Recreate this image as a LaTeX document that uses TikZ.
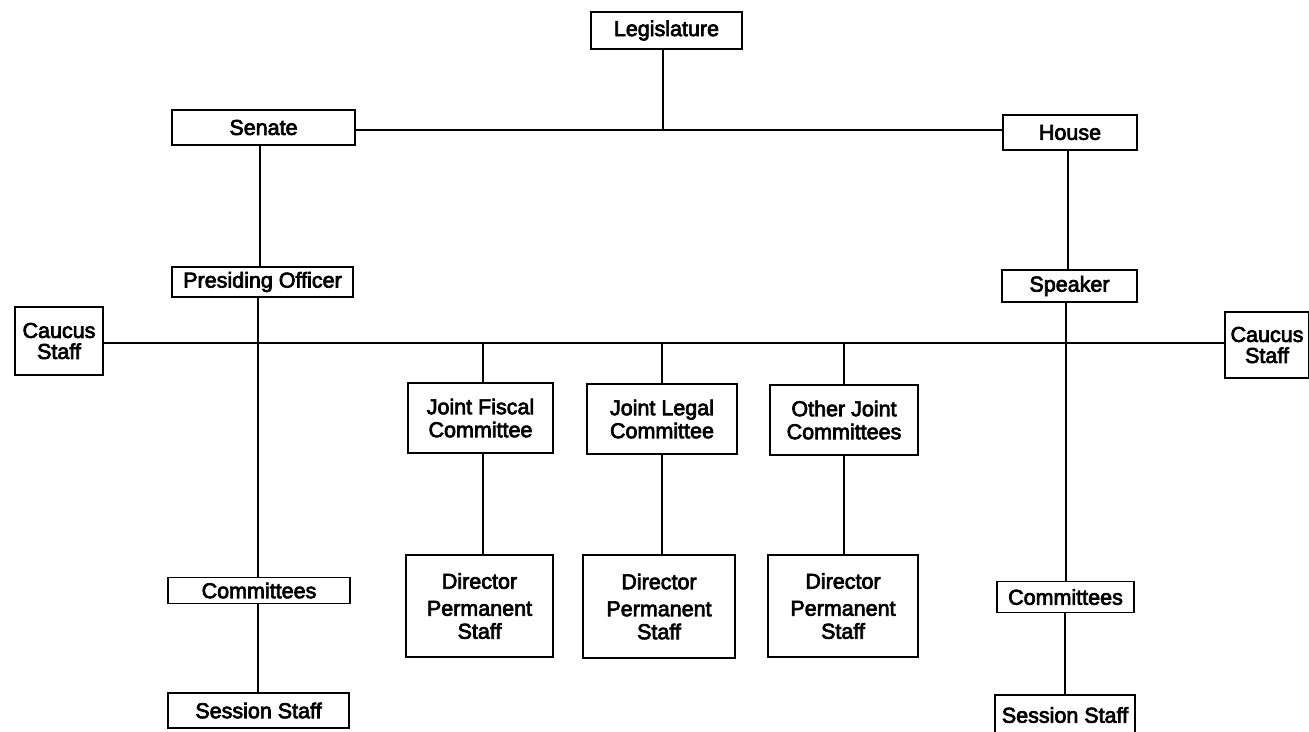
\documentclass[tikz,border=0pt]{standalone}
\usepackage{fontspec}
\setmainfont{Liberation Sans}
\newfontfamily\chartfont{Liberation Sans}
% fill and stroke the glyphs for a heavier type face
\newcommand\heavytext{\special{pdf:literal direct 2 Tr 0.7 w}}
\begin{document}
\begin{tikzpicture}[x=1pt,y=-1pt,
  orgbox/.style={draw, line width=1.6pt, inner sep=0pt, align=center,
    font=\chartfont\fontsize{21.5}{23}\selectfont\heavytext},
  link/.style={line width=1.6pt}]
\useasboundingbox (0,0) rectangle (1309,731);

% top level
\node[orgbox, minimum width=151, minimum height=37] (leg) at (666.5,30.5) {Legislature};
\node[orgbox, minimum width=183, minimum height=35] (senate) at (263.5,127.5) {Senate};
\node[orgbox, minimum width=134, minimum height=35] (house) at (1070,132.5) {House};

% chamber officers
\node[orgbox, minimum width=181, minimum height=30] (pres) at (262.5,282) {Presiding Officer};
\node[orgbox, minimum width=135, minimum height=32] (speaker) at (1069.5,286) {Speaker};

% caucus staff on both ends
\node[orgbox, minimum width=88, minimum height=68] (caucusL) at (59,341) {Caucus\\[-2pt]Staff};
\node[orgbox, minimum width=84, minimum height=66] (caucusR) at (1267,345) {Caucus\\[-2pt]Staff};

% joint committees
\node[orgbox, minimum width=145, minimum height=70] (jfc) at (480.5,418) {Joint Fiscal\\Committee};
\node[orgbox, minimum width=150, minimum height=70] (jlc) at (662,419) {Joint Legal\\Committee};
\node[orgbox, minimum width=148, minimum height=70] (ojc) at (844,420) {Other Joint\\Committees};

% directors and permanent staff
\node[orgbox, minimum width=147, minimum height=102] (dfc) at (479.5,606) {Director\\[4pt]Permanent\\Staff};
\node[orgbox, minimum width=152, minimum height=103] (dlc) at (659,606.5) {Director\\[4pt]Permanent\\Staff};
\node[orgbox, minimum width=150, minimum height=102] (doj) at (843,606) {Director\\[4pt]Permanent\\Staff};

% standing committees and session staff
\node[orgbox, minimum width=182, minimum height=26] (comS) at (259,590.5) {Committees};
\node[orgbox, minimum width=181, minimum height=35] (sessS) at (258.5,710.5) {Session Staff};
\node[orgbox, minimum width=137, minimum height=31] (comH) at (1065.5,597) {Committees};
\node[orgbox, minimum width=140, minimum height=40] (sessH) at (1065,715) {Session Staff};

% junction points
\coordinate (top) at (663,130);
\coordinate (mid) at (483,343);

% legislature to chambers
\draw[link] (leg.south -| top) -- (top);
\draw[link] (senate.east |- top) -- (house.west |- top);

% senate column
\draw[link] (senate.south -| 260,0) -- (pres.north -| 260,0);
\draw[link] (pres.south -| 258,0) -- (comS.north -| 258,0);
\draw[link] (comS.south -| 258,0) -- (sessS.north -| 258,0);

% house column
\draw[link] (house.south -| 1068,0) -- (speaker.north -| 1068,0);
\draw[link] (speaker.south -| 1066,0) -- (comH.north -| 1066,0);
\draw[link] (comH.south -| 1065,0) -- (sessH.north -| 1065,0);

% caucus line across the joint committees
\draw[link] (caucusL.east |- mid) -- (caucusR.west |- mid);
\draw[link] (mid) -- (jfc.north -| mid);
\draw[link] (jlc.north |- mid) -- (jlc.north);
\draw[link] (ojc.north |- mid) -- (ojc.north);

% joint committees to their directors
\draw[link] (jfc.south -| mid) -- (dfc.north -| mid);
\draw[link] (jlc.south) -- (jlc.south |- dlc.north);
\draw[link] (ojc.south) -- (ojc.south |- doj.north);
\end{tikzpicture}
\end{document}
